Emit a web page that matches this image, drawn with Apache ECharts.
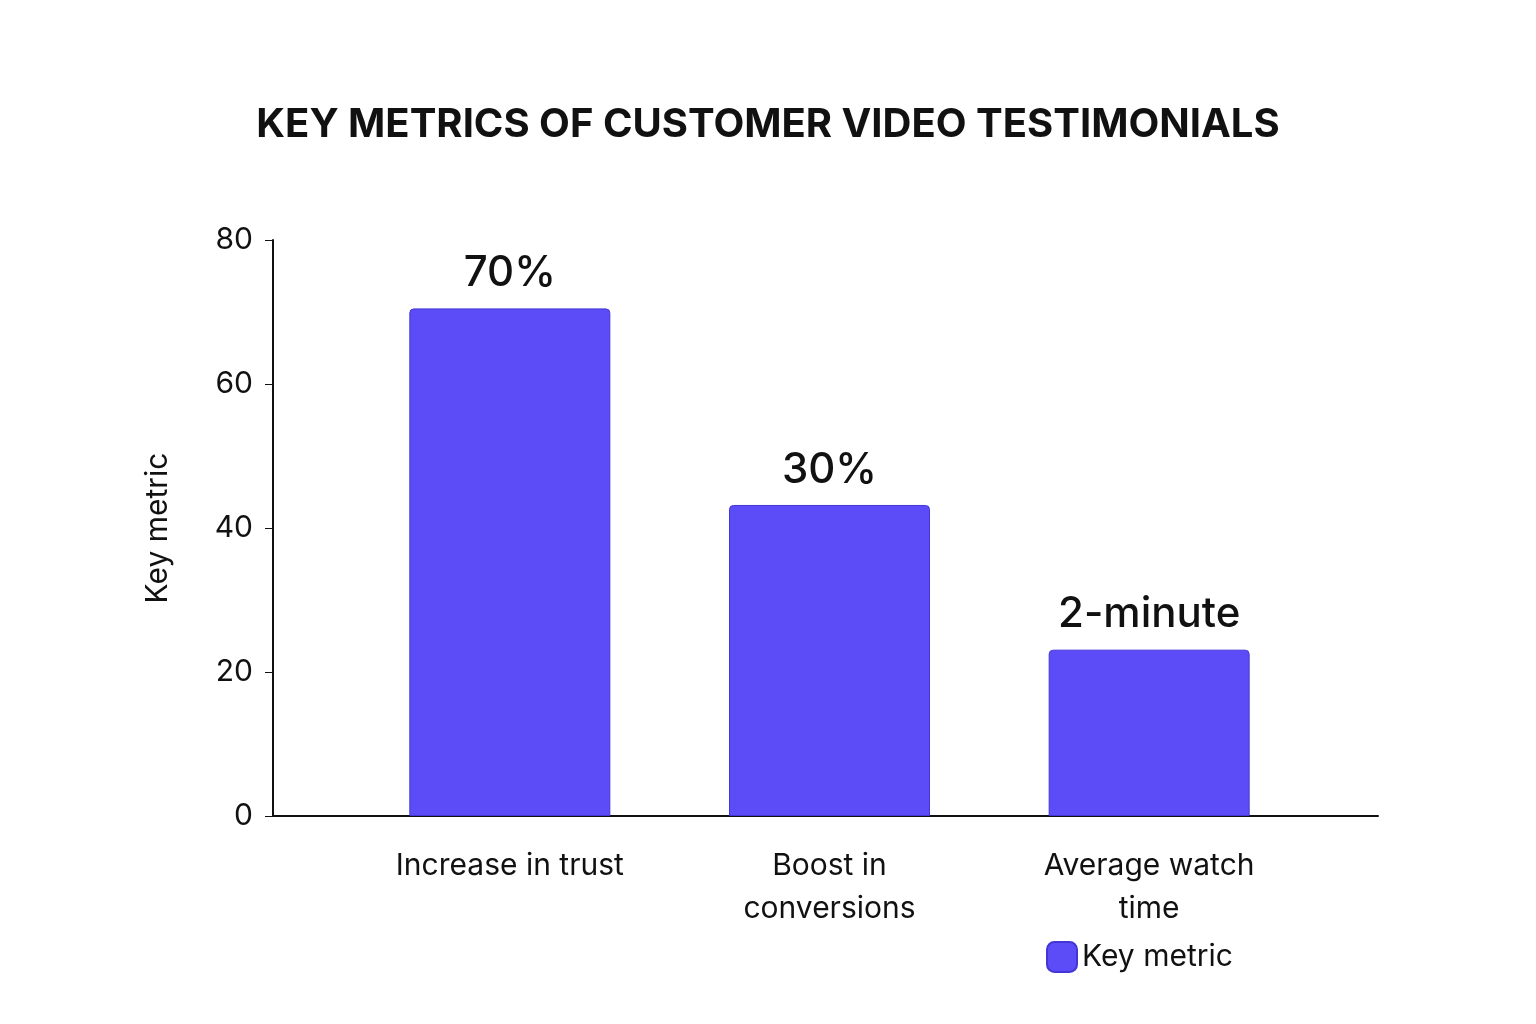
<!DOCTYPE html>
<html>
<head>
<meta charset="utf-8">
<script src="https://cdn.jsdelivr.net/npm/echarts@6/dist/echarts.min.js"></script>
<style>html,body{margin:0;padding:0;background:#fff}#main{width:1536px;height:1024px}</style>
</head>
<body>
<div id="main"></div>
<script>
var categories = ['Increase in trust', 'Boost in\nconversions', 'Average watch\ntime'];
var values = [70.5, 43.2, 23.1];
var barLabels = ['70%', '30%', '2-minute'];
var yTicks = [0, 20, 40, 60, 80];

var chart = echarts.init(document.getElementById('main'));
var font = 'Inter, "Noto Sans", sans-serif';

var option = {
    backgroundColor: '#ffffff',
    title: {
        text: 'KEY METRICS OF CUSTOMER VIDEO TESTIMONIALS',
        left: 'center', top: 100,
        textStyle: {fontFamily: font, fontSize: 40, fontWeight: 'bold', color: '#111111'}
    },
    legend: {
        data: ['Key metric'],
        left: 1041, top: 936,
        itemWidth: 30, itemHeight: 30, itemGap: 12,
        textStyle: {fontFamily: font, fontSize: 30, color: '#111111'}
    },
    grid: [
        {left: 273, right: 158, top: 240, bottom: 208},   // axes
        {left: 350, right: 227, top: 240, bottom: 208}    // bars
    ],
    xAxis: [{
        gridIndex: 0, type: 'value', min: 0, max: 1,
        axisLine: {show: true, onZero: false, lineStyle: {color: '#111', width: 2}},
        axisTick: {show: false}, axisLabel: {show: false}, splitLine: {show: false}
    }, {
        gridIndex: 1, type: 'category', data: categories,
        axisLine: {show: false}, axisTick: {show: false},
        axisLabel: {fontFamily: font, fontSize: 30, color: '#111', margin: 28, lineHeight: 43}
    }],
    yAxis: [{
        gridIndex: 0, type: 'value', min: yTicks[0], max: yTicks[yTicks.length - 1], interval: 20,
        name: 'Key metric', nameLocation: 'middle', nameGap: 100, nameRotate: 90,
        nameTextStyle: {fontFamily: font, fontSize: 30, color: '#111'},
        axisLine: {show: true, lineStyle: {color: '#111', width: 2}},
        axisTick: {show: true, length: 8, lineStyle: {color: '#111'}},
        axisLabel: {fontFamily: font, fontSize: 30, color: '#111', margin: 20},
        splitLine: {show: false}
    }, {
        gridIndex: 1, type: 'value', min: 0, max: 80, show: false
    }],
    series: [{
        name: 'Key metric', type: 'bar', xAxisIndex: 1, yAxisIndex: 1,
        data: values, barWidth: 201,
        itemStyle: {color: '#5b4cf7', borderColor: '#4336d6', borderWidth: 1, borderRadius: [4, 4, 0, 0]},
        label: {
            show: true, position: 'top', distance: 14,
            fontFamily: font, fontSize: 42, fontWeight: 500, color: '#111',
            formatter: function (p) { return barLabels[p.dataIndex]; }
        }
    }]
};
chart.setOption(option);
</script>
</body>
</html>
